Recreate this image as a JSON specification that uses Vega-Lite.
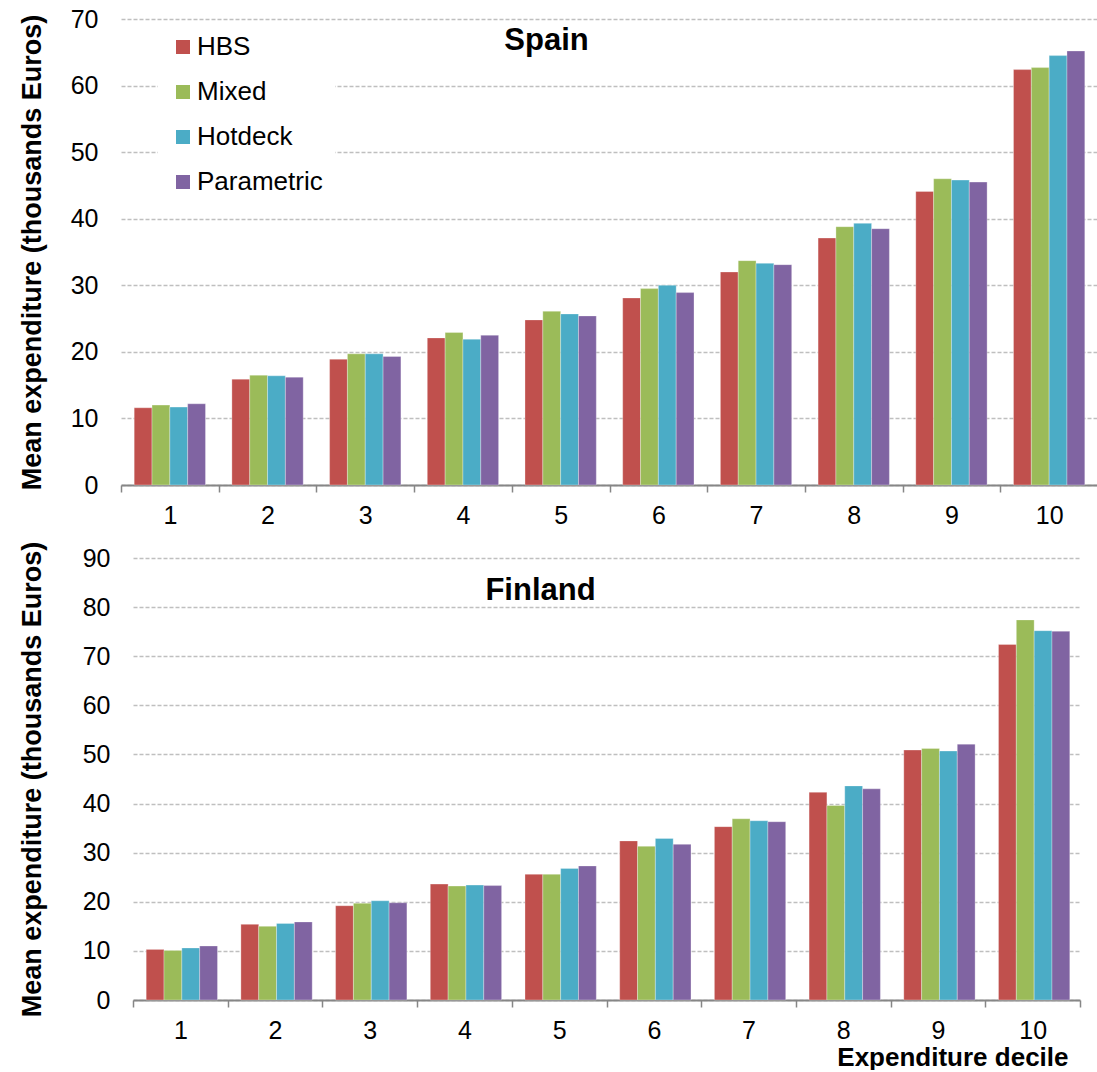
{
  "$schema": "https://vega.github.io/schema/vega-lite/v6.json",
  "background": "white",
  "padding": {"left": 18, "top": 7, "right": 0, "bottom": 0},
  "config": {
    "font": "Liberation Sans",
    "view": {"stroke": null},
    "axis": {"labelColor": "black", "titleColor": "black", "labelFont": "Liberation Sans", "titleFont": "Liberation Sans"},
    "legend": {"labelFont": "Liberation Sans"},
    "title": {"font": "Liberation Sans", "color": "black"}
  },
  "data": {
    "values": [
      {"country": "Spain", "decile": 1, "method": "HBS", "value": 11.6},
      {"country": "Spain", "decile": 1, "method": "Mixed", "value": 12.0},
      {"country": "Spain", "decile": 1, "method": "Hotdeck", "value": 11.7},
      {"country": "Spain", "decile": 1, "method": "Parametric", "value": 12.2},
      {"country": "Spain", "decile": 2, "method": "HBS", "value": 15.9},
      {"country": "Spain", "decile": 2, "method": "Mixed", "value": 16.5},
      {"country": "Spain", "decile": 2, "method": "Hotdeck", "value": 16.4},
      {"country": "Spain", "decile": 2, "method": "Parametric", "value": 16.2},
      {"country": "Spain", "decile": 3, "method": "HBS", "value": 18.9},
      {"country": "Spain", "decile": 3, "method": "Mixed", "value": 19.7},
      {"country": "Spain", "decile": 3, "method": "Hotdeck", "value": 19.7},
      {"country": "Spain", "decile": 3, "method": "Parametric", "value": 19.3},
      {"country": "Spain", "decile": 4, "method": "HBS", "value": 22.1},
      {"country": "Spain", "decile": 4, "method": "Mixed", "value": 22.9},
      {"country": "Spain", "decile": 4, "method": "Hotdeck", "value": 21.9},
      {"country": "Spain", "decile": 4, "method": "Parametric", "value": 22.5},
      {"country": "Spain", "decile": 5, "method": "HBS", "value": 24.8},
      {"country": "Spain", "decile": 5, "method": "Mixed", "value": 26.1},
      {"country": "Spain", "decile": 5, "method": "Hotdeck", "value": 25.7},
      {"country": "Spain", "decile": 5, "method": "Parametric", "value": 25.4},
      {"country": "Spain", "decile": 6, "method": "HBS", "value": 28.1},
      {"country": "Spain", "decile": 6, "method": "Mixed", "value": 29.5},
      {"country": "Spain", "decile": 6, "method": "Hotdeck", "value": 30.0},
      {"country": "Spain", "decile": 6, "method": "Parametric", "value": 28.9},
      {"country": "Spain", "decile": 7, "method": "HBS", "value": 32.0},
      {"country": "Spain", "decile": 7, "method": "Mixed", "value": 33.7},
      {"country": "Spain", "decile": 7, "method": "Hotdeck", "value": 33.3},
      {"country": "Spain", "decile": 7, "method": "Parametric", "value": 33.1},
      {"country": "Spain", "decile": 8, "method": "HBS", "value": 37.1},
      {"country": "Spain", "decile": 8, "method": "Mixed", "value": 38.8},
      {"country": "Spain", "decile": 8, "method": "Hotdeck", "value": 39.3},
      {"country": "Spain", "decile": 8, "method": "Parametric", "value": 38.5},
      {"country": "Spain", "decile": 9, "method": "HBS", "value": 44.1},
      {"country": "Spain", "decile": 9, "method": "Mixed", "value": 46.0},
      {"country": "Spain", "decile": 9, "method": "Hotdeck", "value": 45.8},
      {"country": "Spain", "decile": 9, "method": "Parametric", "value": 45.5},
      {"country": "Spain", "decile": 10, "method": "HBS", "value": 62.4},
      {"country": "Spain", "decile": 10, "method": "Mixed", "value": 62.7},
      {"country": "Spain", "decile": 10, "method": "Hotdeck", "value": 64.5},
      {"country": "Spain", "decile": 10, "method": "Parametric", "value": 65.2},
      {"country": "Finland", "decile": 1, "method": "HBS", "value": 10.3},
      {"country": "Finland", "decile": 1, "method": "Mixed", "value": 10.1},
      {"country": "Finland", "decile": 1, "method": "Hotdeck", "value": 10.6},
      {"country": "Finland", "decile": 1, "method": "Parametric", "value": 11.0},
      {"country": "Finland", "decile": 2, "method": "HBS", "value": 15.4},
      {"country": "Finland", "decile": 2, "method": "Mixed", "value": 15.0},
      {"country": "Finland", "decile": 2, "method": "Hotdeck", "value": 15.6},
      {"country": "Finland", "decile": 2, "method": "Parametric", "value": 15.9},
      {"country": "Finland", "decile": 3, "method": "HBS", "value": 19.2},
      {"country": "Finland", "decile": 3, "method": "Mixed", "value": 19.7},
      {"country": "Finland", "decile": 3, "method": "Hotdeck", "value": 20.2},
      {"country": "Finland", "decile": 3, "method": "Parametric", "value": 19.8},
      {"country": "Finland", "decile": 4, "method": "HBS", "value": 23.6},
      {"country": "Finland", "decile": 4, "method": "Mixed", "value": 23.2},
      {"country": "Finland", "decile": 4, "method": "Hotdeck", "value": 23.4},
      {"country": "Finland", "decile": 4, "method": "Parametric", "value": 23.3},
      {"country": "Finland", "decile": 5, "method": "HBS", "value": 25.6},
      {"country": "Finland", "decile": 5, "method": "Mixed", "value": 25.6},
      {"country": "Finland", "decile": 5, "method": "Hotdeck", "value": 26.8},
      {"country": "Finland", "decile": 5, "method": "Parametric", "value": 27.3},
      {"country": "Finland", "decile": 6, "method": "HBS", "value": 32.4},
      {"country": "Finland", "decile": 6, "method": "Mixed", "value": 31.3},
      {"country": "Finland", "decile": 6, "method": "Hotdeck", "value": 32.9},
      {"country": "Finland", "decile": 6, "method": "Parametric", "value": 31.7},
      {"country": "Finland", "decile": 7, "method": "HBS", "value": 35.3},
      {"country": "Finland", "decile": 7, "method": "Mixed", "value": 36.9},
      {"country": "Finland", "decile": 7, "method": "Hotdeck", "value": 36.5},
      {"country": "Finland", "decile": 7, "method": "Parametric", "value": 36.3},
      {"country": "Finland", "decile": 8, "method": "HBS", "value": 42.3},
      {"country": "Finland", "decile": 8, "method": "Mixed", "value": 39.6},
      {"country": "Finland", "decile": 8, "method": "Hotdeck", "value": 43.6},
      {"country": "Finland", "decile": 8, "method": "Parametric", "value": 43.0},
      {"country": "Finland", "decile": 9, "method": "HBS", "value": 50.9},
      {"country": "Finland", "decile": 9, "method": "Mixed", "value": 51.2},
      {"country": "Finland", "decile": 9, "method": "Hotdeck", "value": 50.7},
      {"country": "Finland", "decile": 9, "method": "Parametric", "value": 52.1},
      {"country": "Finland", "decile": 10, "method": "HBS", "value": 72.4},
      {"country": "Finland", "decile": 10, "method": "Mixed", "value": 77.4},
      {"country": "Finland", "decile": 10, "method": "Hotdeck", "value": 75.2},
      {"country": "Finland", "decile": 10, "method": "Parametric", "value": 75.1}
    ]
  },
  "columns": 1,
  "spacing": 13,
  "resolve": {"scale": {"color": "independent"}, "legend": {"color": "independent"}},
  "concat": [
    {
      "transform": [{"filter": "datum.country === 'Spain'"}],
      "width": 977,
      "height": 466,
      "title": {"text": "Spain", "fontSize": 31, "fontWeight": "bold", "anchor": "middle", "frame": "group", "dx": -63, "baseline": "top", "offset": -50},
      "mark": {"type": "bar", "stroke": "white", "strokeWidth": 0.5, "strokeOpacity": 0.6},
      "encoding": {
        "x": {
          "field": "decile", "type": "ordinal",
          "scale": {"paddingInner": 0, "paddingOuter": 0},
          "axis": {"title": null, "labelAngle": 0, "labelFontSize": 25, "labelPadding": 11, "tickBand": "extent", "tickSize": 7, "tickColor": "#868686", "tickWidth": 1.5, "domainColor": "#868686", "domainWidth": 2, "grid": false}
        },
        "xOffset": {"field": "method", "type": "nominal", "sort": ["HBS", "Mixed", "Hotdeck", "Parametric"], "scale": {"paddingInner": 0, "paddingOuter": 0.74}},
        "y": {
          "field": "value", "type": "quantitative",
          "scale": {"domain": [0, 70], "nice": false},
          "axis": {"title": "Mean expenditure (thousands Euros)", "titleFontSize": 27, "titleFontWeight": "bold", "titlePadding": 24, "labelFontSize": 25, "labelPadding": 23, "ticks": false, "domain": false, "values": [0, 10, 20, 30, 40, 50, 60, 70], "format": "d", "grid": true, "gridColor": "#bfbfbf", "gridDash": [4, 2], "gridWidth": 1.3}
        },
        "color": {
          "field": "method", "type": "nominal",
          "scale": {"domain": ["HBS", "Mixed", "Hotdeck", "Parametric"], "range": ["#C0504D", "#9BBB59", "#4BACC6", "#8064A2"]},
          "legend": {"title": null, "orient": "none", "legendX": 37, "legendY": 3, "direction": "vertical", "symbolType": "square", "symbolSize": 196, "symbolStrokeWidth": 0, "labelFontSize": 26, "labelOffset": 1, "rowPadding": 19, "padding": 12, "fillColor": "white", "labelColor": "black"}
        }
      }
    },
    {
      "transform": [{"filter": "datum.country === 'Finland'"}],
      "width": 959,
      "height": 442,
      "title": {"text": "Finland", "fontSize": 31, "fontWeight": "bold", "anchor": "middle", "frame": "group", "dx": -60, "baseline": "top", "offset": -66},
      "mark": {"type": "bar", "stroke": "white", "strokeWidth": 0.5, "strokeOpacity": 0.6},
      "encoding": {
        "x": {
          "field": "decile", "type": "ordinal",
          "scale": {"range": [12, 959], "paddingInner": 0, "paddingOuter": 0},
          "axis": {"title": "Expenditure decile", "titleFontSize": 26, "titleFontWeight": "bold", "titleX": 947, "titleAlign": "right", "titlePadding": 1, "labelAngle": 0, "labelFontSize": 25, "labelPadding": 11, "tickBand": "extent", "tickSize": 7, "tickColor": "#868686", "tickWidth": 1.5, "domainColor": "#868686", "domainWidth": 2, "grid": false}
        },
        "xOffset": {"field": "method", "type": "nominal", "sort": ["HBS", "Mixed", "Hotdeck", "Parametric"], "scale": {"paddingInner": 0, "paddingOuter": 0.74}},
        "y": {
          "field": "value", "type": "quantitative",
          "scale": {"domain": [0, 90], "nice": false},
          "axis": {"title": "Mean expenditure (thousands Euros)", "titleFontSize": 27, "titleFontWeight": "bold", "titlePadding": 36, "offset": -12, "labelFontSize": 25, "labelPadding": 23, "ticks": false, "domain": false, "values": [0, 10, 20, 30, 40, 50, 60, 70, 80, 90], "format": "d", "grid": true, "gridColor": "#bfbfbf", "gridDash": [4, 2], "gridWidth": 1.3}
        },
        "color": {
          "field": "method", "type": "nominal",
          "scale": {"domain": ["HBS", "Mixed", "Hotdeck", "Parametric"], "range": ["#C0504D", "#9BBB59", "#4BACC6", "#8064A2"]},
          "legend": null
        }
      }
    }
  ]
}
